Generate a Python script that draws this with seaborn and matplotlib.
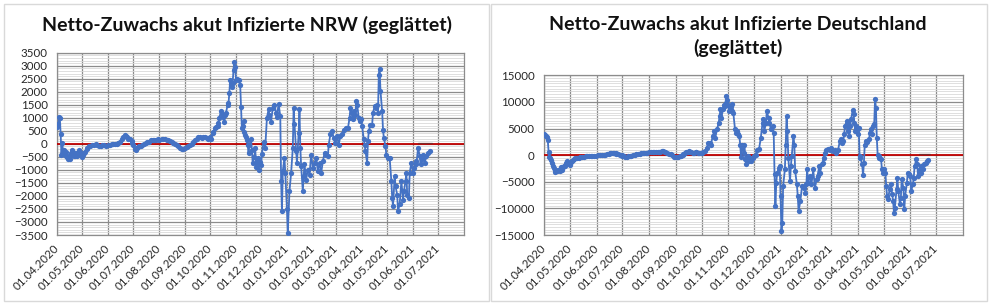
import matplotlib
matplotlib.use("Agg")
import numpy as np
import pandas as pd
import seaborn as sns
import matplotlib.pyplot as plt
from matplotlib.ticker import MultipleLocator
from matplotlib.patches import Rectangle

sns.set_theme(style="white")
plt.rcParams["font.family"] = ["Lato", "DejaVu Sans"]

START = "2020-04-01"
X_END = "2021-08-01"

# ---------------- data (days after 01.04.2020, value) ----------------
nrw_days = [0, 1, 2, 3, 4, 5, 6, 7, 8, 9, 10, 11, 12, 13, 14, 15, 16, 17, 18, 19,
            20, 21, 22, 23, 24, 25, 26, 27, 28, 29, 30, 31, 32, 33, 35, 36, 38, 39, 42, 44,
            46, 48, 50, 52, 54, 56, 58, 61, 63, 65, 67, 69, 71, 73, 75, 77, 79, 81, 82, 83,
            85, 87, 89, 90, 91, 93, 94, 95, 97, 98, 100, 102, 104, 106, 108, 110, 112, 114, 116, 118,
            120, 122, 125, 127, 129, 131, 133, 135, 137, 139, 141, 143, 145, 147, 149, 151, 153, 155, 157, 159,
            161, 163, 165, 167, 169, 171, 173, 175, 177, 179, 181, 183, 184, 186, 187, 189, 190, 192, 193, 194,
            196, 197, 198, 200, 201, 202, 204, 205, 206, 207, 208, 209, 210, 211, 212, 213, 214, 215, 217, 219,
            220, 221, 222, 223, 224, 225, 226, 227, 228, 229, 230, 232, 233, 234, 236, 237, 238, 240, 241, 243,
            244, 245, 247, 249, 251, 253, 254, 256, 258, 260, 262, 263, 265, 267, 268, 269, 270, 272, 273, 275,
            276, 278, 280, 282, 283, 284, 286, 287, 289, 290, 291, 292, 294, 295, 296, 298, 300, 302, 304, 306,
            308, 310, 312, 314, 316, 318, 320, 322, 324, 325, 327, 329, 331, 333, 335, 337, 339, 341, 343, 346,
            348, 350, 351, 353, 354, 355, 357, 358, 359, 361, 362, 364, 365, 367, 368, 369, 371, 372, 373, 375,
            377, 378, 380, 382, 383, 384, 385, 386, 387, 389, 390, 391, 393, 394, 396, 398, 400, 401, 402, 404,
            405, 407, 408, 410, 412, 414, 415, 417, 418, 419, 421, 422, 424, 426, 427, 429, 430, 432, 434, 435,
            437, 438, 440, 442, 444, 446]
nrw_values = [650, 750, 1020, 1000, 380, -440, 50, -350, -250, -420, -450, -300, -520, -590, -450, -600, -350, -420, -250, -300,
              -480, -450, -350, -480, -400, -350, -230, -300, -420, -480, -520, -420, -350, -300, -200, -150, -90, -80, -60, -40,
              -10, -60, -100, -80, -60, -40, -80, -60, -40, -10, 0, 10, 0, 40, 90, 180, 280, 350, 300, 250,
              200, 180, 100, 50, -60, -200, -230, -150, -120, -100, -80, -40, 0, 25, 60, 90, 130, 150, 130, 130,
              170, 150, 180, 170, 180, 160, 150, 120, 90, 40, 0, -50, -100, -150, -200, -180, -160, -130, -100, -40,
              0, 80, 150, 200, 280, 250, 220, 260, 280, 220, 180, 280, 200, 400, 450, 600, 650, 700, 800, 1000,
              1250, 1150, 1050, 850, 1100, 1200, 1500, 1550, 1950, 2450, 2300, 2200, 2350, 2850, 3150, 2950, 2450, 2500, 2450, 2250,
              1430, 600, 700, 860, 470, 350, 280, 150, -40, -360, -40, 180, -230, -740, -490, -160, -870, -550, -1000, -680,
              -800, -400, 90, -150, 1000, 1320, 1100, 850, 1380, 1490, 1190, 1050, 1540, 1060, -1430, -2590, -1050, -540, -1110, -2520,
              -3420, -1820, -1110, -150, 1380, 770, -280, -730, 420, 1320, -150, -860, -1820, -1240, -790, -1370, -990, -1180, -410, -920,
              -730, -540, -1050, -730, -1110, -670, -350, -410, -470, -25, 360, 490, 230, 50, 300, -25, 300, 360, 550, 615,
              600, 1000, 1380, 1190, 935, 1255, 1100, 1640, 1510, 1000, 870, 935, 680, 170, -25, -280, -730, 100, 490, 740,
              740, 1190, 1450, 1380, 1510, 1190, 2660, 2855, 2020, 1250, 550, 230, -90, -410, -540, -540, -1430, -2070, -2390, -1240,
              -1630, -1950, -2590, -2300, -1430, -2140, -1820, -1430, -1110, -1950, -2070, -1110, -730, -1110, -920, -670, -790, -150, -470, -790,
              -600, -410, -730, -470, -350, -280]

de_days = [0, 1, 2, 3, 4, 5, 6, 7, 8, 9, 10, 11, 12, 13, 14, 15, 16, 17, 18, 19,
           20, 21, 22, 23, 24, 25, 26, 27, 28, 29, 30, 31, 32, 33, 35, 36, 38, 40, 42, 44,
           46, 48, 50, 52, 54, 56, 58, 60, 63, 65, 67, 69, 71, 73, 75, 77, 78, 80, 81, 83,
           84, 86, 88, 90, 91, 93, 94, 96, 98, 100, 101, 103, 105, 107, 109, 111, 113, 115, 116, 118,
           120, 122, 124, 126, 128, 130, 132, 134, 135, 137, 138, 140, 141, 143, 145, 147, 149, 151, 153, 155,
           156, 158, 159, 161, 162, 164, 165, 167, 168, 170, 171, 173, 174, 176, 177, 179, 180, 182, 183, 185,
           187, 189, 191, 193, 194, 196, 198, 199, 201, 203, 204, 205, 206, 208, 209, 210, 211, 212, 213, 214,
           215, 217, 218, 219, 220, 222, 223, 224, 226, 227, 228, 229, 230, 232, 233, 234, 235, 237, 238, 240,
           241, 243, 244, 246, 248, 250, 252, 254, 255, 256, 258, 259, 261, 262, 264, 266, 267, 268, 269, 270,
           271, 273, 274, 275, 276, 277, 278, 280, 281, 282, 283, 284, 286, 287, 288, 290, 291, 292, 294, 295,
           296, 298, 300, 302, 304, 305, 306, 307, 309, 311, 313, 315, 317, 318, 320, 321, 323, 324, 325, 327,
           328, 330, 332, 334, 336, 338, 340, 342, 344, 345, 346, 348, 349, 350, 352, 353, 354, 355, 356, 357,
           359, 360, 361, 362, 363, 365, 366, 367, 368, 370, 371, 372, 373, 375, 376, 378, 379, 380, 381, 383,
           384, 385, 386, 387, 388, 389, 390, 392, 393, 394, 395, 397, 398, 399, 400, 402, 403, 405, 406, 407,
           408, 410, 411, 412, 414, 415, 416, 418, 419, 420, 422, 423, 424, 426, 427, 429, 430, 431, 433, 434,
           435, 437, 438, 439, 441, 442, 444, 446, 447]
de_values = [3880, 3700, 3600, 3400, 2900, 600, -400, -600, -900, -1500, -2000, -2400, -2800, -3100, -3000, -3000, -2700, -2800, -2900, -2300,
             -2500, -2700, -2200, -2000, -2000, -1500, -1300, -1100, -1500, -1750, -1800, -1300, -1100, -900, -700, -600, -550, -500, -400, -300,
             -300, -250, -250, -200, -180, -150, -120, -100, -60, 0, 50, 80, 120, 200, 300, 380, 400, 380, 350, 320,
             300, 200, 100, 0, -100, -250, -300, -280, -250, -150, -100, 0, 50, 150, 250, 300, 350, 400, 440, 430,
             450, 500, 560, 520, 500, 530, 560, 600, 650, 700, 750, 600, 500, 400, 300, 150, 0, -300, -400, -380,
             -350, -200, -100, 100, 200, 400, 500, 650, 700, 600, 550, 450, 400, 500, 550, 450, 400, 450, 310, 500,
             750, 1380, 2190, 2320, 2000, 3570, 4500, 3260, 4820, 6070, 7320, 8580, 7010, 8580, 9500, 9200, 9830, 11200, 10450, 9500,
             8260, 9200, 8260, 9700, 7950, 4820, 4190, 4500, 3880, 3570, 2000, -310, 1815, 440, 2000, -810, -1750, -190, -1130, -500,
             -1130, -500, -190, 120, 1060, 1190, 3260, 6070, 6700, 4500, 6070, 8260, 7010, 6070, 4820, 5450, 4190, -3630, -9580, -5200,
             -3320, -2380, -2070, -7700, -14270, -12700, -5820, -2690, 2000, 7320, 4500, -500, -4880, -2070, -190, 3570, 2000, -3000, -5500, -7700,
             -10500, -8640, -5820, -6130, -7070, -5500, -2690, -5200, -3940, -5500, -2690, -6130, -4570, -3940, -2070, -3320, -1750, -1440, -500, 440,
             880, 1190, 1060, 1380, 750, 1060, 440, 1060, 2630, 2940, 2320, 2630, 3880, 5450, 6390, 4500, 5760, 3570, 5450, 6700,
             8450, 7640, 6070, 4500, 5450, 3880, 5130, -190, -500, -1750, -3820, -1440, 2000, 2630, 2440, 2940, 4190, 4820, 3880, 5450,
             5760, 10580, 8890, 3260, 120, -190, -500, -810, -2690, -3320, -2690, -3320, -5820, -7700, -8330, -6450, -5500, -7390, -8640, -10830,
             -9890, -6450, -4260, -6760, -9270, -8010, -4570, -6130, -10200, -7700, -5200, -3320, -3630, -3940, -6760, -5500, -4260, -2070, -810, -1750,
             -3940, -2690, -3320, -2070, -2690, -1750, -1440, -1130, -940]

# short dark segment just above the zero line (June 2021)
nrw_seg_days = [432, 449]
nrw_seg_values = [40, 40]
de_seg_days = [436, 449]
de_seg_values = [150, 150]

tick_months = pd.date_range("2020-04-01", "2021-07-01", freq="MS")
tick_labels = [d.strftime("%d.%m.%Y") for d in tick_months]

BLUE = "#4472C4"
RED = "#C00000"
GRID = "#8C8C8C"
MINOR = "#D9D9D9"
TXT = "#262626"

W, H = 993, 306
fig = plt.figure(figsize=(W / 100, H / 100), dpi=100)


def fx(px):
    return px / W


def fy(py):
    return 1 - py / H


# panel frames
for x0, x1 in [(4, 489), (491, 987)]:
    fig.patches.append(Rectangle((fx(x0), fy(301)), fx(x1 - x0), (301 - 4) / H,
                                 transform=fig.transFigure, fill=False,
                                 ec="#D9D9D9", lw=1.0, zorder=0))


def to_dates(days):
    return pd.Timestamp(START) + pd.to_timedelta(days, unit="D")


def draw(ax, days, values, seg_days, seg_values, lim, major, minor):
    df = pd.DataFrame({"date": to_dates(days), "value": values})
    ax.axhline(0, color=RED, lw=1.3, zorder=3)
    sns.lineplot(data=df, x="date", y="value", ax=ax, color=BLUE, lw=1.3,
                 marker="o", markersize=3.8, markeredgewidth=0, zorder=4,
                 estimator=None, sort=True)
    sg = pd.DataFrame({"date": to_dates(seg_days), "value": seg_values})
    ax.plot(sg["date"], sg["value"], color="#7A2A2A", lw=0.9, zorder=3.5)
    ax.set_xlim(pd.Timestamp(START), pd.Timestamp(X_END))
    ax.set_ylim(-lim, lim)
    ax.set_xticks(tick_months)
    ax.set_xticklabels(tick_labels, rotation=45, ha="right", va="center",
                       rotation_mode="anchor")
    ax.yaxis.set_major_locator(MultipleLocator(major))
    ax.yaxis.set_minor_locator(MultipleLocator(minor))
    ax.grid(which="major", axis="both", color=GRID, lw=0.9)
    ax.grid(which="minor", axis="y", color=MINOR, lw=0.6)
    ax.set_axisbelow(True)
    for s in ax.spines.values():
        s.set_color(GRID)
        s.set_linewidth(0.9)
    ax.set_xlabel("")
    ax.set_ylabel("")
    ax.tick_params(axis="x", which="major", length=3, color=GRID, pad=5,
                   labelsize=8.3, labelcolor=TXT)
    ax.tick_params(axis="y", which="major", length=0, pad=7,
                   labelsize=8.3, labelcolor=TXT)
    ax.tick_params(axis="y", which="minor", length=0)
    ax.set_facecolor("white")


ax1 = fig.add_axes([fx(57.3), fy(235), fx(464 - 57.3), (235 - 52.7) / H])
draw(ax1, nrw_days, nrw_values, nrw_seg_days, nrw_seg_values, 3500, 500, 100)

ax2 = fig.add_axes([fx(544.3), fy(235), fx(962.7 - 544.3), (235 - 75.3) / H])
draw(ax2, de_days, de_values, de_seg_days, de_seg_values, 15000, 5000, 500)
# light horizontal band visible across the right plot
ax2.axhline(-3300, color="white", lw=1.4, zorder=2.5)

TITLE_KW = dict(ha="center", va="center", fontsize=14, fontweight="bold", color="#111111")
fig.text(fx(247), fy(25), "Netto-Zuwachs akut Infizierte NRW (geglättet)", **TITLE_KW)
fig.text(fx(738), fy(25), "Netto-Zuwachs akut Infizierte Deutschland", **TITLE_KW)
fig.text(fx(738), fy(48), "(geglättet)", **TITLE_KW)

fig.savefig("out.png", dpi=100, facecolor="white")
